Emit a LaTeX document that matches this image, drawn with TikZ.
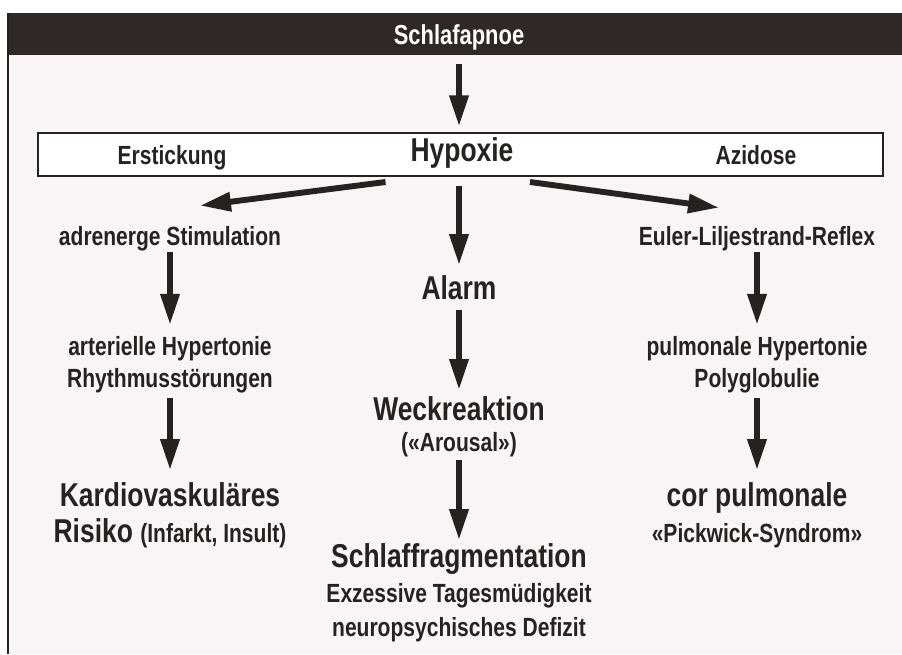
\documentclass[tikz,border=0pt]{standalone}
\usepackage{fontspec}
\setmainfont{Liberation Sans}[FakeStretch=0.8]
\usetikzlibrary{arrows.meta}
\definecolor{paper}{RGB}{249,244,245}
\definecolor{bar}{RGB}{46,40,38}
\definecolor{ink}{RGB}{38,34,34}
\newcommand{\klein}{\fontsize{18.7}{22.7}\selectfont}
\begin{document}
\begin{tikzpicture}[x=0.025cm,y=-0.025cm,
  txt/.style={text=ink,font=\bfseries\klein,align=center,inner sep=0pt},
  txtL/.style={txt,font=\bfseries\fontsize{23.5}{23.5}\selectfont},
  band/.style={draw=ink,line width=1.4pt,fill=white,minimum width=21.125cm,minimum height=1.075cm,inner sep=0pt},
  pfeil/.style={draw=ink,line width=4.2pt,-{Triangle[length=22pt,width=13pt]}}]
\def\xl{170};
\def\xm{459};
\def\xr{757};

\useasboundingbox (0,0) rectangle (902,654);
\fill[paper] (8,13) rectangle (902,654);
\fill[bar] (8,13) rectangle (902,55);
\draw[ink,line width=1.4pt] (8,13) -- (8,654);

\node[txt,text=white,font=\bfseries\fontsize{19.5}{22}\selectfont,anchor=base] (apnoe) at (\xm,44) {Schlafapnoe};

\node[band] (box) at (460.5,154.5) {};
\node[txtL,anchor=base] (hyp) at (\xm+3,161) {Hypoxie};
\node[txt,anchor=base] (erst) at (172,164) {Erstickung};
\node[txt,anchor=base] (azid) at (756,164) {Azidose};
\draw[pfeil,shorten <=10pt,shorten >=4pt] (apnoe.south) -- (box.north -| apnoe.south);

\node[txt,anchor=base] (adren) at (\xl,245) {adrenerge Stimulation};
\node[txt,anchor=base] (euler) at (\xr,245) {Euler-Liljestrand-Reflex};
\node[txtL,anchor=base] (alarm) at (\xm,299) {Alarm};
\draw[pfeil] ([shift={(-75,5)}]box.south) -- ([shift={(30,-20)}]adren.north);
\draw[pfeil] ([shift={(69.5,5)}]box.south) -- ([shift={(-38,-18)}]euler.north);
\draw[pfeil,shorten <=6.4pt,shorten >=6.9pt] (box.south -| alarm.north) -- (alarm.north);

\node[txt] (arter) at (\xl,364.3) {arterielle Hypertonie\\Rhythmusstörungen};
\draw[pfeil,shorten <=0.8pt,shorten >=7.8pt] (adren.south) -- (arter.north);
\node[txt] (pulmo) at (\xr,364.3) {pulmonale Hypertonie\\Polyglobulie};
\draw[pfeil,shorten <=0.8pt,shorten >=7.8pt] (euler.south) -- (pulmo.north);

\node[txtL,font=\bfseries\fontsize{23.5}{22}\selectfont] (weck) at (\xm,427) {Weckreaktion\\{\klein(«Arousal»)}};
\draw[pfeil,shorten <=7.1pt,shorten >=4.7pt] (alarm.south) -- (weck.north);

\node[txtL,font=\bfseries\fontsize{23.5}{25.5}\selectfont] (kardio) at (\xl,515.6) {Kardiovaskuläres\\Risiko {\klein(Infarkt, Insult)}};
\draw[pfeil,shorten <=3.9pt,shorten >=9pt] (arter.south) -- (kardio.north);
\node[txtL,font=\bfseries\fontsize{23.5}{25.5}\selectfont] (corpul) at (\xr,515.6) {cor pulmonale\\{\klein«Pickwick-Syndrom»}};
\draw[pfeil,shorten <=3.9pt,shorten >=9pt] (pulmo.south) -- (corpul.north);

\node[txtL,font=\bfseries\fontsize{23.5}{24.8}\selectfont] (fragm) at (\xm,593) {Schlaffragmentation\\{\klein Exzessive Tagesmüdigkeit}\\[-0.8pt]{\klein neuropsychisches Defizit}};
\draw[pfeil,shorten <=1.8pt,shorten >=2.6pt] (weck.south) -- (fragm.north);
\end{tikzpicture}
\end{document}
